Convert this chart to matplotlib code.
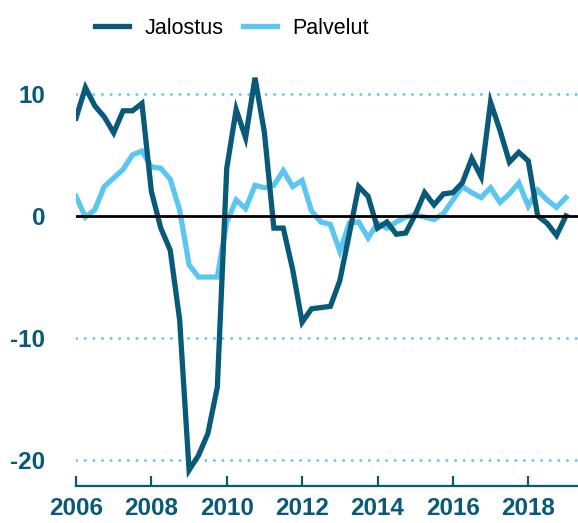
import numpy as np
import matplotlib.pyplot as plt

# quarterly observations, 2006Q1 .. 2019Q1
start_year = 2006
jalostus = [8.0, 10.5, 9.0, 8.1, 6.8, 8.6, 8.6, 9.2, 2.0, -1.0, -2.8, -8.5,
            -20.8, -19.6, -17.8, -14.0, 3.9, 8.7, 6.4, 11.3, 6.8, -1.0, -1.0, -4.4,
            -8.7, -7.6, -7.5, -7.4, -5.3, -1.5, 2.4, 1.6, -1.0, -0.5, -1.5, -1.4,
            0.1, 1.9, 0.9, 1.8, 1.9, 2.7, 4.7, 3.2, 9.3, 7.0, 4.4, 5.2, 4.5,
            0.0, -0.6, -1.6, 0.0]
palvelut = [1.6, -0.1, 0.5, 2.4, 3.1, 3.8, 5.0, 5.3, 4.0, 3.9, 3.0, 0.5,
            -4.0, -5.0, -5.0, -5.0, -0.5, 1.3, 0.6, 2.5, 2.3, 2.5, 3.7, 2.4,
            2.9, 0.4, -0.5, -0.7, -2.9, -0.6, -0.5, -1.8, -0.6, -1.0, -0.5, -0.1,
            0.1, -0.1, -0.3, 0.2, 1.3, 2.4, 1.9, 1.5, 2.3, 1.1, 1.8, 2.7, 0.8,
            2.1, 1.3, 0.7, 1.5]
t = start_year + np.arange(len(jalostus)) / 4
xticks = [2006, 2008, 2010, 2012, 2014, 2016, 2018]
yticks = [-20, -10, 0, 10]

dark = "#085a78"
light = "#5bc6f1"

W, H = 578, 523
fig = plt.figure(figsize=(W / 100, H / 100), dpi=100)
ax = fig.add_axes([76 / W, (H - 486) / H, (W - 76) / W, (486 - 57) / H])
plt.rcParams["font.family"] = ["Liberation Sans", "DejaVu Sans"]

for y in yticks:
    if y == 0:
        continue
    ax.axhline(y, color=light, lw=2, linestyle=(0, (0.1, 3.0)),
               dash_capstyle="round", zorder=1)
ax.axhline(0, color="black", lw=2, zorder=4)

ax.plot(t, jalostus, color=dark, lw=3.8, label="Jalostus", zorder=3,
        solid_joinstyle="miter")
ax.plot(t, palvelut, color=light, lw=3.8, label="Palvelut", zorder=2,
        solid_joinstyle="miter")

ax.set_xlim(2006, 2019.32)
ax.set_ylim(-22.1, 13)
ax.set_xticks(xticks)
ax.set_xticklabels([str(x) for x in xticks], fontsize=17.5, fontweight="bold",
                   color=dark, family=["Liberation Sans", "DejaVu Sans"])
ax.set_yticks(yticks)
ax.set_yticklabels([str(y).replace("-", "-") for y in yticks], fontsize=17.5,
                   fontweight="bold", color=dark,
                   family=["Liberation Sans", "DejaVu Sans"])
ax.tick_params(axis="x", direction="in", length=7.5, width=1.6, color=dark, pad=8)
ax.tick_params(axis="y", length=0, pad=22)
for s in ["top", "right", "left"]:
    ax.spines[s].set_visible(False)
ax.spines["bottom"].set_color(dark)
ax.spines["bottom"].set_linewidth(1.6)

fig.legend(loc="center", bbox_to_anchor=(232 / W, 1 - 28 / H), ncol=2,
           frameon=False, fontsize=15.5, handlelength=1.6, handletextpad=0.7,
           columnspacing=0.9, prop={"family": ["Liberation Sans", "DejaVu Sans"], "size": 15.5})

fig.savefig("out.png", dpi=100)
